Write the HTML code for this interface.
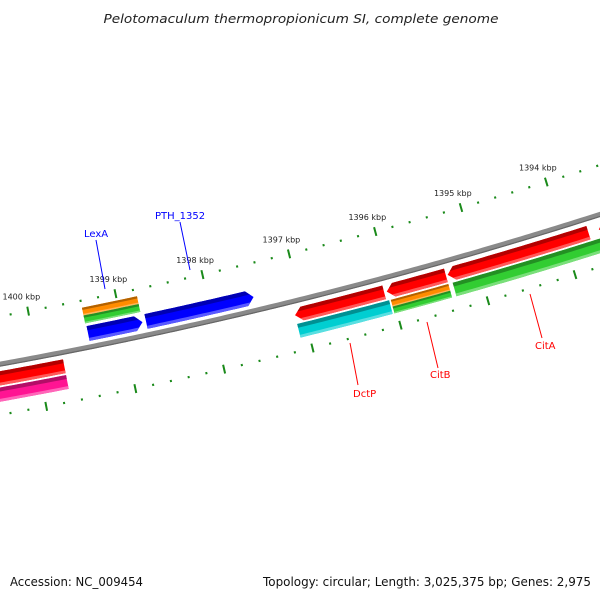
<!DOCTYPE html>
<html><head><meta charset="utf-8"><style>
html,body{margin:0;padding:0;background:#fff;}
svg{display:block;font-family:"DejaVu Sans","Liberation Sans",sans-serif;}
</style></head><body>
<svg id="map" width="600" height="600" viewBox="0 0 600 600" xmlns="http://www.w3.org/2000/svg">
<rect width="600" height="600" fill="#fff"/>
<text x="301" y="23" text-anchor="middle" font-size="12.5" font-style="italic" fill="#222" textLength="395" lengthAdjust="spacingAndGlyphs">Pelotomaculum thermopropionicum SI, complete genome</text>
<text x="10" y="586" font-size="12" fill="#111" textLength="133" lengthAdjust="spacingAndGlyphs">Accession: NC_009454</text>
<text x="263" y="586" font-size="12" fill="#111" textLength="328" lengthAdjust="spacingAndGlyphs">Topology: circular; Length: 3,025,375 bp; Genes: 2,975</text>
<defs id="defs"></defs>
<g id="rulers"></g>
<g id="backbone"></g>
<g id="features"></g>
<g id="labels"></g>
</svg>
<script>
// data (positions in kbp)
const featNames = ['prev-red','prev-pink','LexA-orange','LexA-green','LexA','PTH_1352','DctP-red','DctP','CitB-red','CitB-orange','CitB-green','CitA-red','CitA-green','next-red'];
const featStart = [1400.6,1400.6,1399.40,1399.40,1399.39,1398.73,1397.10,1397.10,1396.05,1396.03,1396.03,1395.35,1395.32,1393.60];
const featEnd   = [1399.72,1399.72,1398.77,1398.77,1398.77,1397.50,1396.08,1396.05,1395.37,1395.37,1395.37,1393.72,1393.62,1393.2];
const featTrack = ['r1','r2','f2a','f2b','f1','f1','r1','r2','r1','r2a','r2b','r1','r2','r1'];
const featColor = ['#ff0000','#ff1493','#ff8c00','#32cd32','#0000ff','#0000ff','#ff0000','#00ced1','#ff0000','#ff8c00','#32cd32','#ff0000','#32cd32','#ff0000'];
const featArrow = ['none','none','none','none','R','R','L','none','L','none','none','L','none','L'];
const labelText = ['LexA','PTH_1352','DctP','CitB','CitA'];
const labelColor = ['#0000ff','#0000ff','#ff0000','#ff0000','#ff0000'];
const tickMajor = [1394,1395,1396,1397,1398,1399,1400];
const tickLabels = ['1394 kbp','1395 kbp','1396 kbp','1397 kbp','1398 kbp','1399 kbp','1400 kbp'];

const CX=-853, CY=-4330;
const NS='http://www.w3.org/2000/svg';
function theta(k){return (72.77+(k-1394)*1.08)*Math.PI/180;}
function pt(k,r){const t=theta(k);return [CX+r*Math.cos(t),CY+r*Math.sin(t)];}
const tracks={f1:[4750,4765],f2a:[4731,4739],f2b:[4739,4747],r1:[4778,4792],r2:[4794,4808],r2a:[4794,4801],r2b:[4801,4808]};
function arcPts(k1,k2,r){const a=[];const n=Math.max(2,Math.ceil(Math.abs(k2-k1)/0.05));for(let i=0;i<=n;i++)a.push(pt(k1+(k2-k1)*i/n,r));return a;}
function el(tag,attrs,parent){const e=document.createElementNS(NS,tag);for(const k in attrs)e.setAttribute(k,attrs[k]);parent.appendChild(e);return e;}
function ps(a){return a.map(p=>p[0].toFixed(2)+','+p[1].toFixed(2)).join(' ');}
const defs=document.getElementById('defs');

// rulers
const rul=document.getElementById('rulers');
[4724,4821].forEach((R)=>{
  for(let k=1393.0;k<=1401.01;k+=0.2){
    const kk=Math.round(k*10)/10;
    const major=Math.abs(kk-Math.round(kk))<1e-6;
    const h=major?4.5:1.1;
    const a=pt(kk,R-h),b=pt(kk,R+h);
    const t=el('line',{x1:a[0],y1:a[1],x2:b[0],y2:b[1],stroke:'#1a8a1a','stroke-width':2},rul);
    
    
  }
});
tickMajor.forEach((k,i)=>{
  const p=pt(k,4709);
  const t=el('text',{x:p[0]-4,y:p[1]+3,'text-anchor':'middle','font-size':'8',fill:'#222'},rul);
  t.textContent=tickLabels[i];
  
  
});

// backbone
const bb=document.getElementById('backbone');
const b1=el('polyline',{points:ps(arcPts(1393,1401,4771)),fill:'none',stroke:'#8a8a8a','stroke-width':5},bb);


el('polyline',{points:ps(arcPts(1393,1401,4773)),fill:'none',stroke:'#666','stroke-width':1.2},bb);

// features
const fg=document.getElementById('features');
function shade(c,f){const n=parseInt(c.slice(1),16);let r=n>>16,g=(n>>8)&255,b=n&255;
  if(f<0){r*=1+f;g*=1+f;b*=1+f;}else{r+=(255-r)*f;g+=(255-g)*f;b+=(255-b)*f;}
  return 'rgb('+Math.round(r)+','+Math.round(g)+','+Math.round(b)+')';}
featNames.forEach((nm,i)=>{
  const hi=featStart[i],lo=featEnd[i];const [r1,r2]=tracks[featTrack[i]];const rm=(r1+r2)/2;
  const head=0.08;let poly;
  if(featArrow[i]==='R'){poly=arcPts(hi,lo+head,r1).concat([pt(lo,rm)]).concat(arcPts(lo+head,hi,r2));}
  else if(featArrow[i]==='L'){poly=arcPts(hi-head,lo,r1).concat(arcPts(lo,hi-head,r2)).concat([pt(hi,rm)]);}
  else{poly=arcPts(hi,lo,r1).concat(arcPts(lo,hi,r2));}
  const cid='clip'+i;
  const cp=el('clipPath',{id:cid},defs);el('polygon',{points:ps(poly)},cp);
  const g=el('g',{'clip-path':'url(#'+cid+')'},fg);
  
  
  const w=r2-r1;
  const band=(a,b,c)=>el('polygon',{points:ps(arcPts(hi+0.2,lo-0.2,a).concat(arcPts(lo-0.2,hi+0.2,b))),fill:c},g);
  band(r1-1,r2+1,featColor[i]);
  band(r1-1,r1+w*0.28,shade(featColor[i],-0.3));
  band(r2-w*0.2,r2+1,shade(featColor[i],0.35));
});

// gene labels with leader lines
const lg=document.getElementById('labels');
const lbl=[[84,237,96,240,105,289],[155,219,180,222,190,270],[353,397,350,343,358,385],[430,378,427,322,438,368],[535,349,530,294,542,338]];
labelText.forEach((s,i)=>{
  const L=lbl[i];
  el('line',{x1:L[2],y1:L[3],x2:L[4],y2:L[5],stroke:labelColor[i],'stroke-width':1},lg);
  const t=el('text',{x:L[0],y:L[1],'font-size':'10',fill:labelColor[i]},lg);
  t.textContent=s;
  
  
});
</script>
</body></html>
